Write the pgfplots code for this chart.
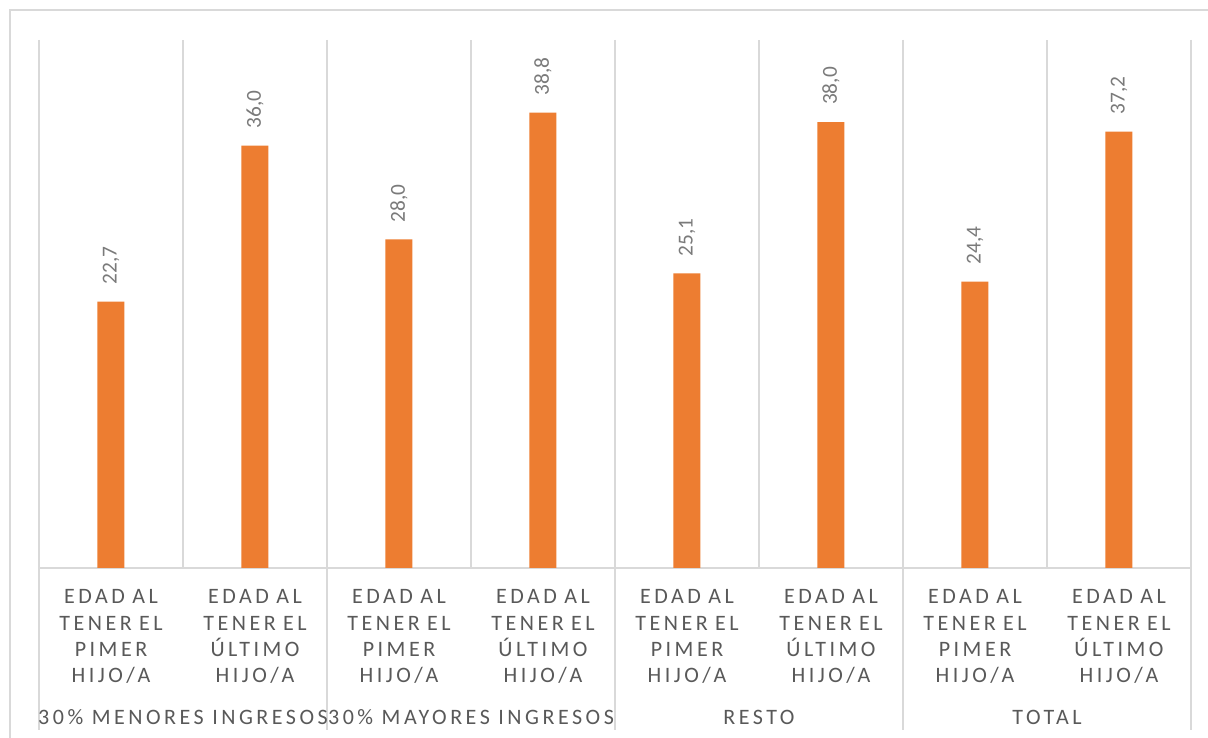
\documentclass[border=0pt]{standalone}
\usepackage{pgfplots}
\pgfplotsset{compat=1.18}
\usepackage{fontspec}
\setmainfont{Carlito}
\newfontfamily\spaced[LetterSpace=16]{Carlito}
\definecolor{barorange}{HTML}{ED7D31}
\definecolor{gridgray}{HTML}{D9D9D9}
\definecolor{txtgray}{HTML}{595959}
\definecolor{lblgray}{HTML}{7A7A7A}
\begin{document}
\begin{tikzpicture}
\useasboundingbox (0,0) rectangle (906pt,553.5pt);
\fill[white] (0,0) rectangle (906pt,553.5pt);
\draw[gridgray, line width=1.2pt] (7.5pt,0) -- (7.5pt,546pt) -- (906pt,546pt);
\begin{axis}[
  at={(29.25pt,127.5pt)}, anchor=south west,
  scale only axis, width=864pt, height=396pt,
  xmin=-0.5, xmax=7.5, ymin=0, ymax=45,
  axis line style={draw=none},
  ytick=\empty,
  xtick={0,...,7},
  xticklabels={{EDAD AL\\TENER EL\\PIMER\\HIJO/A},{EDAD AL\\TENER EL\\ÚLTIMO\\HIJO/A},
               {EDAD AL\\TENER EL\\PIMER\\HIJO/A},{EDAD AL\\TENER EL\\ÚLTIMO\\HIJO/A},
               {EDAD AL\\TENER EL\\PIMER\\HIJO/A},{EDAD AL\\TENER EL\\ÚLTIMO\\HIJO/A},
               {EDAD AL\\TENER EL\\PIMER\\HIJO/A},{EDAD AL\\TENER EL\\ÚLTIMO\\HIJO/A}},
  major tick length=0pt,
  x tick label style={font={\spaced\fontsize{16.5pt}{19.7pt}\selectfont}, text=txtgray,
     align=center, text width=100pt, anchor=base, inner sep=0pt, yshift=-27pt},
  extra x ticks={0.5,1.5,2.5,3.5,4.5,5.5,6.5},
  extra x tick labels={},
  extra x tick style={grid=major, major grid style={gridgray, line width=0.9pt}},
  clip=false,
  ybar, bar width=20.25pt,
  nodes near coords={\pgfmathprintnumber[fixed,fixed zerofill,precision=1,use comma,assume math mode=true]{\pgfplotspointmeta}},
  every node near coord/.append style={font={\fontsize{16pt}{19pt}\selectfont}, text=lblgray,
     rotate=90, anchor=west, inner xsep=12.75pt, inner ysep=0pt},
]
\draw[gridgray, line width=0.9pt] (axis cs:-0.5,0) -- (axis cs:7.5,0);
\draw[gridgray, line width=0.9pt] (axis cs:-0.5,45) -- (axis cs:-0.5,-13.8);
\draw[gridgray, line width=0.9pt] (axis cs:1.5,45) -- (axis cs:1.5,-13.8);
\draw[gridgray, line width=0.9pt] (axis cs:3.5,45) -- (axis cs:3.5,-13.8);
\draw[gridgray, line width=0.9pt] (axis cs:5.5,45) -- (axis cs:5.5,-13.8);
\draw[gridgray, line width=0.9pt] (axis cs:7.5,45) -- (axis cs:7.5,-13.8);
\addplot[fill=barorange, draw=none] coordinates {
  (0,22.7) (1,36.0) (2,28.0) (3,38.8) (4,25.1) (5,38.0) (6,24.4) (7,37.2)
};
\node[font={\spaced\fontsize{16.5pt}{19.7pt}\selectfont}, text=txtgray, anchor=base, inner sep=0pt] at (axis cs:0.5,-13.3) {30\% MENORES INGRESOS};
\node[font={\spaced\fontsize{16.5pt}{19.7pt}\selectfont}, text=txtgray, anchor=base, inner sep=0pt] at (axis cs:2.5,-13.3) {30\% MAYORES INGRESOS};
\node[font={\spaced\fontsize{16.5pt}{19.7pt}\selectfont}, text=txtgray, anchor=base, inner sep=0pt] at (axis cs:4.5,-13.3) {RESTO};
\node[font={\spaced\fontsize{16.5pt}{19.7pt}\selectfont}, text=txtgray, anchor=base, inner sep=0pt] at (axis cs:6.5,-13.3) {TOTAL};
\end{axis}
\end{tikzpicture}
\end{document}
